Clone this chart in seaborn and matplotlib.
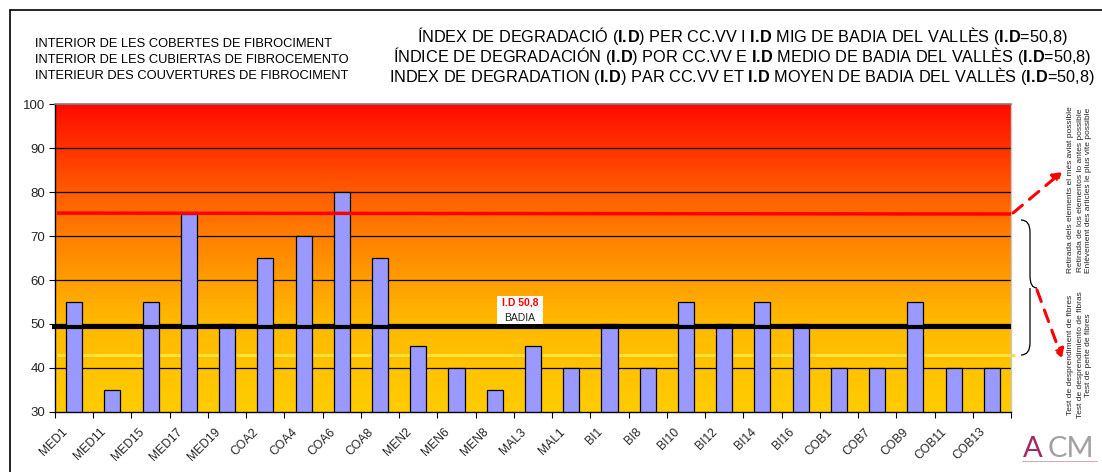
import numpy as np
import matplotlib
matplotlib.use("Agg")
import matplotlib.pyplot as plt
import seaborn as sns
from matplotlib.colors import LinearSegmentedColormap
from matplotlib.path import Path
from matplotlib.patches import PathPatch, Rectangle, FancyArrowPatch

# ===== DATA =====
categories = ["MED1", "MED11", "MED15", "MED17", "MED19", "COA2", "COA4", "COA6",
              "COA8", "MEN2", "MEN6", "MEN8", "MAL3", "MAL1", "BI1", "BI8", "BI10",
              "BI12", "BI14", "BI16", "COB1", "COB7", "COB9", "COB11", "COB13"]
values = [55, 35, 55, 75, 50, 65, 70, 80, 65, 45, 40, 35, 45, 40, 50, 40, 55,
          50, 55, 50, 40, 40, 55, 40, 40]
id_badia = 49.3      # thick black line (I.D 50,8 de Badia)
id_retirada = 75.2   # red line
id_test = 43         # yellow line
y_ticks = [30, 40, 50, 60, 70, 80, 90, 100]

ID = r"$\mathbf{I.\!D}$"
title_lines = [
    f"ÍNDEX DE DEGRADACIÓ ({ID}) PER CC.VV I {ID} MIG DE BADIA DEL VALLÈS ({ID}=50,8)",
    f"ÍNDICE DE DEGRADACIÓN ({ID}) POR CC.VV E {ID} MEDIO DE BADIA DEL VALLÈS ({ID}=50,8)",
    f"INDEX DE DEGRADATION ({ID}) PAR CC.VV ET {ID} MOYEN DE BADIA DEL VALLÈS ({ID}=50,8)",
]
subtitle_lines = ["INTERIOR DE LES COBERTES DE FIBROCIMENT",
                  "INTERIOR DE LES CUBIERTAS DE FIBROCEMENTO",
                  "INTERIEUR DES COUVERTURES DE FIBROCIMENT"]
retirada_txt = ("Retirada dels elements el més aviat possible\n"
                "Retirada de los elementos lo antes possible\n"
                "Enlèvement des articles le plus vite possible")
test_txt = ("Test de desprendiment de fibres\n"
            "Test de desprendimiento de fibras\n"
            "Test de perte de fibres")

# ===== STYLE =====
sns.set_theme(style="white")
plt.rcParams["font.family"] = ["Liberation Sans", "DejaVu Sans"]
plt.rcParams["mathtext.fontset"] = "custom"
plt.rcParams["mathtext.rm"] = "Liberation Sans"
plt.rcParams["mathtext.bf"] = "Liberation Sans:bold"

W, H = 1102, 472
fig = plt.figure(figsize=(W / 100, H / 100), dpi=100)
ax = fig.add_axes([55 / W, 1 - 412 / H, (1011 - 55) / W, (412 - 104) / H])


def P(x, y):
    return (x / W, 1 - y / H)


# ===== BACKGROUND GRADIENT =====
cmap = LinearSegmentedColormap.from_list(
    "grad", [(0.0, "#FFCC00"), (0.3, "#FFB800"), (0.57, "#FF8000"),
             (0.75, "#FF5200"), (1.0, "#FF0A00")])
grad = np.linspace(0, 1, 256).reshape(-1, 1)
ax.imshow(grad, extent=[-0.5, len(categories) - 0.5, 30, 100], aspect="auto",
          cmap=cmap, origin="lower", zorder=0)

# gridlines
for t in y_ticks[1:-1]:
    ax.axhline(t, color="black", lw=0.9, zorder=0.6)

# yellow line (behind bars)
ax.plot([-0.45, len(categories) - 0.4], [id_test, id_test], color="#FFE23A",
        lw=2.2, zorder=0.7, clip_on=False, solid_capstyle="butt")

# ===== BARS =====
sns.barplot(x=categories, y=values, color="#9999FF", saturation=1,
            edgecolor="black", linewidth=0.9, width=0.42, ax=ax, zorder=2)

# black line I.D Badia
ax.plot([-0.58, len(categories) - 0.5], [id_badia, id_badia], color="black",
        lw=3, zorder=3, clip_on=False, solid_capstyle="butt")
# red line
ax.plot([-0.45, len(categories) - 0.5], [id_retirada, id_retirada - 0.2],
        color="#FF0000", lw=2.5, zorder=3, solid_capstyle="butt")

# I.D 50,8 BADIA label
ax.add_patch(Rectangle((11.06, 49.9), 1.2, 6.4, facecolor="white",
                       edgecolor="none", zorder=4))
ax.text(11.66, 54.9, "I.D 50,8", ha="center", va="center", fontsize=7.5,
        color="#FF0000", fontweight="bold", zorder=5)
ax.text(11.66, 51.4, "BADIA", ha="center", va="center", fontsize=7.5,
        color="#222222", zorder=5)

ax.set_xlim(-0.5, len(categories) - 0.5)
ax.set_ylim(30, 100)
ax.set_yticks(y_ticks)
ax.set_yticklabels([str(t) for t in y_ticks], fontsize=9.5)
# labels sit a bit left of the bar centre, like the original
ax.set_xticks(np.arange(len(categories)) - 0.33)
ax.set_xticklabels(categories, rotation=45, ha="right", rotation_mode="anchor",
                   fontsize=8.7)
ax.set_xticks(np.arange(-0.5, len(categories), 1), minor=True)
ax.tick_params(axis="x", which="major", length=0, pad=10)
ax.tick_params(axis="x", which="minor", length=4, width=0.8, color="black",
               direction="out", bottom=True)
ax.tick_params(axis="y", length=4, width=0.8, color="black", direction="out",
               left=True, pad=3)
ax.set_xlabel("")
ax.set_ylabel("")
for s in ["left", "bottom"]:
    ax.spines[s].set_color("black")
    ax.spines[s].set_linewidth(1)
ax.spines["top"].set_color("#808080")
ax.spines["top"].set_linewidth(1.2)
ax.spines["right"].set_color("#C8C8C8")
ax.spines["right"].set_linewidth(1)

# ===== TEXTS =====
for i, line in enumerate(title_lines):
    fig.text(742 / W, 1 - (36 + i * 20) / H, line, ha="center", va="center",
             fontsize=11.7, color="black")
for i, line in enumerate(subtitle_lines):
    fig.text(35 / W, 1 - (44 + i * 16) / H, line, ha="left", va="center",
             fontsize=9.3, color="black")

fig.text(1080 / W, 1 - 190 / H, retirada_txt, rotation=90, ha="center",
         va="center", multialignment="center", fontsize=6, linespacing=1.4)
fig.text(1080 / W, 1 - 355 / H, test_txt, rotation=90, ha="center",
         va="center", multialignment="center", fontsize=6, linespacing=1.4)

# dashed arrows
for (x0, y0), (x1, y1) in [((1013, 213), (1062, 172)), ((1037, 290), (1062, 358))]:
    arr = FancyArrowPatch(P(x0, y0), P(x1, y1), transform=fig.transFigure,
                          arrowstyle="-|>,head_length=5,head_width=3",
                          linestyle=(0, (4, 3)), color="#FF0000", lw=2.2,
                          shrinkA=0, shrinkB=0)
    fig.add_artist(arr)

# brace
verts = [P(1021, 220), P(1030, 220), P(1030, 232),
         P(1030, 276), P(1030, 288), P(1037, 288),
         P(1030, 288), P(1030, 300), P(1030, 343),
         P(1030, 355), P(1021, 355)]
codes = [Path.MOVETO, Path.CURVE3, Path.CURVE3, Path.LINETO, Path.CURVE3,
         Path.CURVE3, Path.MOVETO, Path.CURVE3, Path.LINETO, Path.CURVE3,
         Path.CURVE3]
fig.add_artist(PathPatch(Path(verts, codes), transform=fig.transFigure,
                         facecolor="none", edgecolor="black", lw=0.9))

# figure border (top and left edges visible)
fig.add_artist(plt.Line2D([10 / W, 1.05], [1 - 10 / H, 1 - 10 / H],
                          transform=fig.transFigure, color="black", lw=1.2))
fig.add_artist(plt.Line2D([10 / W, 10 / W], [1 - 10 / H, -0.05],
                          transform=fig.transFigure, color="black", lw=1.2))

# ACM logo
fig.text(1033 / W, 1 - 457 / H, "A", ha="center", va="baseline", fontsize=21,
         color="#A02C66", family=["Lato", "DejaVu Sans"])
fig.text(1071 / W, 1 - 457 / H, "CM", ha="center", va="baseline", fontsize=21,
         color="#A0A0A0", family=["Lato", "DejaVu Sans"])
fig.add_artist(plt.Line2D([1022 / W, 1097 / W], [1 - 461 / H, 1 - 461 / H],
                          transform=fig.transFigure, color="#C89AB0", lw=0.6))

fig.savefig("out.png", dpi=100)
